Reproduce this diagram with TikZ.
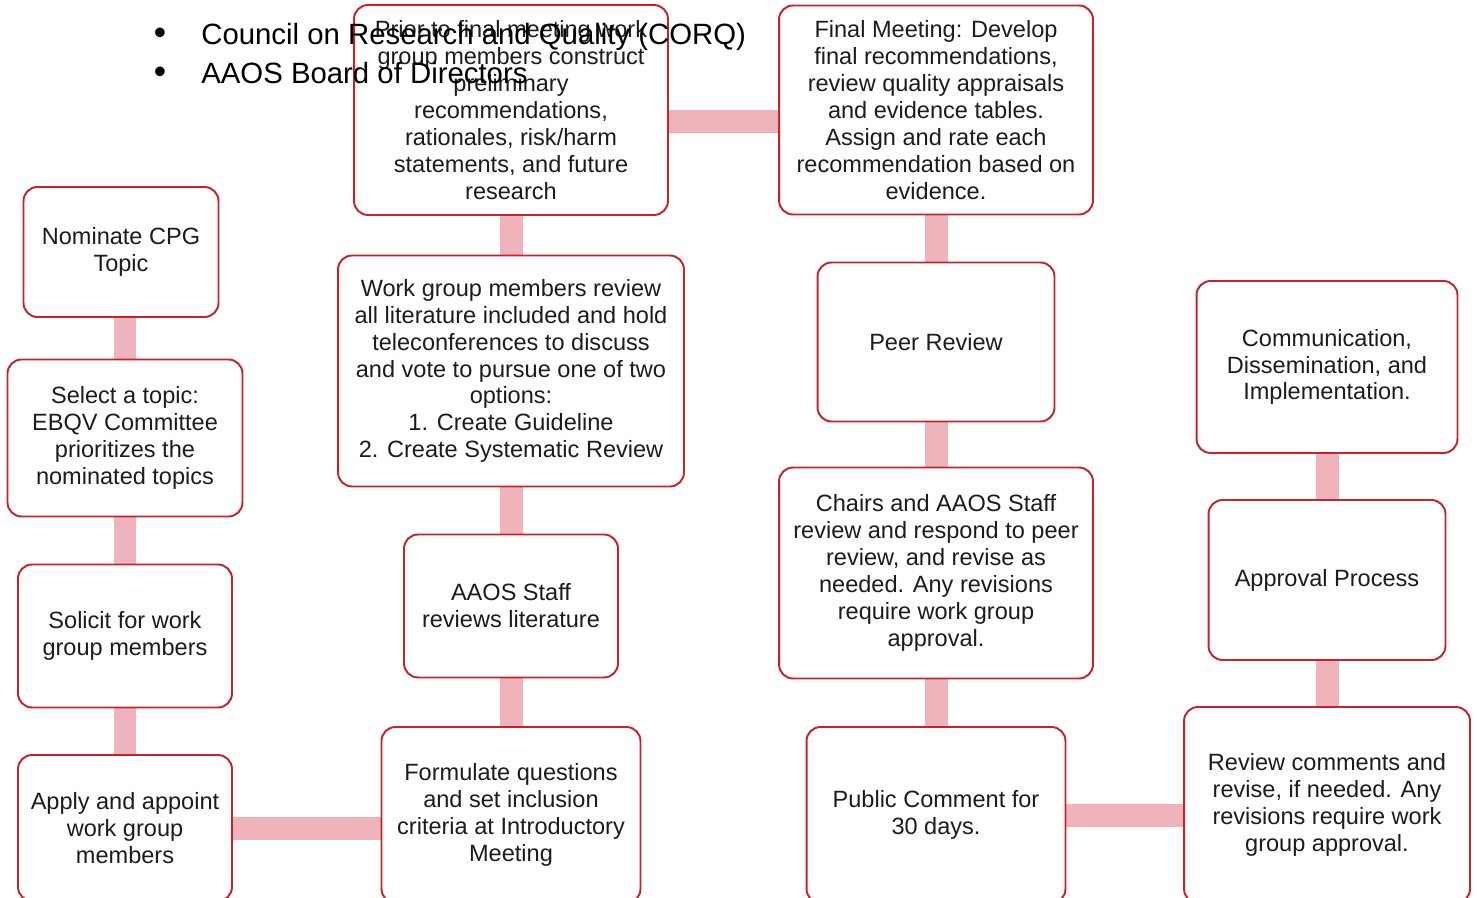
\documentclass[tikz,border=0pt]{standalone}
\usepackage{fontspec}
\setmainfont{Liberation Sans}
\usetikzlibrary{positioning,backgrounds}
\definecolor{boxred}{RGB}{198,34,46}
\definecolor{barpink}{RGB}{239,180,187}
\definecolor{inktext}{RGB}{28,28,28}

\begin{document}
\begin{tikzpicture}[
    x=0.02cm, y=-0.02cm,
    every node/.style={font=\fontsize{13.4}{15.3}\selectfont, text=inktext},
    stepbox/.style={rectangle, rounded corners=0.28cm, draw=boxred, line width=1.1pt, fill=white, align=center, inner sep=2pt},
    bar/.style={draw=barpink, line width=0.46cm},
    bullettext/.style={font=\fontsize{16.7}{20}\selectfont, text=black, anchor=base west, inner sep=0pt}
]
\useasboundingbox (0,0) rectangle (1477,898);
\clip (0,0) rectangle (1477,898);

% COLUMN 1
\node[stepbox, minimum width=3.9cm, minimum height=2.6cm] (nominate) at (121,252) {Nominate CPG\\Topic};
\node[stepbox, minimum width=4.7cm, minimum height=3.14cm] (select) at (125,438) {Select a topic:\\EBQV Committee\\prioritizes the\\nominated topics};
\node[stepbox, minimum width=4.28cm, minimum height=2.86cm] (solicit) at (125,636) {Solicit for work\\group members};
\node[stepbox, minimum width=4.28cm, minimum height=2.92cm] (apply) at (125,828) {Apply and appoint\\work group\\members};

% COLUMN 2
\node[stepbox, minimum width=6.28cm, minimum height=4.2cm] (prior) at (511,110) {Prior to final meeting work\\group members construct\\preliminary\\recommendations,\\rationales, risk/harm\\statements, and future\\research};
\node[stepbox, minimum width=6.92cm, minimum height=4.62cm] (review) at (511,371) {Work group members review\\all literature included and hold\\teleconferences to discuss\\and vote to pursue one of two\\options:\\1. Create Guideline\\2. Create Systematic Review};
\node[stepbox, minimum width=4.28cm, minimum height=2.86cm] (staff) at (511,606) {AAOS Staff\\reviews literature};
\node[stepbox, minimum width=5.18cm, minimum height=3.52cm] (formulate) at (511,815) {Formulate questions\\and set inclusion\\criteria at Introductory\\Meeting};

% COLUMN 3
\node[stepbox, minimum width=6.28cm, minimum height=4.18cm] (final) at (936,110) {Final Meeting: Develop\\final recommendations,\\review quality appraisals\\and evidence tables.\\Assign and rate each\\recommendation based on\\evidence.};
\node[stepbox, minimum width=4.74cm, minimum height=3.18cm] (peer) at (936,342) {Peer Review};
\node[stepbox, minimum width=6.28cm, minimum height=4.22cm] (chairs) at (936,573) {Chairs and AAOS Staff\\review and respond to peer\\review, and revise as\\needed. Any revisions\\require work group\\approval.};
\node[stepbox, minimum width=5.18cm, minimum height=3.52cm] (public) at (936,815) {Public Comment for\\30 days.};

% COLUMN 4
\node[stepbox, minimum width=5.22cm, minimum height=3.44cm] (comm) at (1327,367) {Communication,\\Dissemination, and\\Implementation.};
\node[stepbox, minimum width=4.74cm, minimum height=3.2cm] (approval) at (1327,580) {Approval Process};
\node[stepbox, minimum width=5.72cm, minimum height=3.92cm] (revcomments) at (1327,805) {Review comments and\\revise, if needed. Any\\revisions require work\\group approval.};

% BARS BEHIND THE BOXES
\begin{scope}[on background layer]
\draw[bar] (select) -- (select |- nominate.south);
\draw[bar] (select) -- (solicit);
\draw[bar] (solicit) -- (apply);
\draw[bar] (apply) -- (apply -| formulate);
\draw[bar] (formulate) -- (staff);
\draw[bar] (staff) -- (review);
\draw[bar] (review) -- (prior);
\draw[bar] ([yshift=-0.24cm]prior.center) -- ([yshift=-0.24cm]final.center);
\draw[bar] (final) -- (peer);
\draw[bar] (peer) -- (chairs);
\draw[bar] (chairs) -- (public);
\draw[bar] (public) -- (public -| revcomments);
\draw[bar] (revcomments) -- (approval);
\draw[bar] (approval) -- (comm);
\end{scope}

% BULLET LINES ON TOP
\node[bullettext, anchor=base, font=\fontsize{20}{20}\selectfont] (dotone) at (160,45) {\textbullet};
\node[bullettext] (corq) at (201,45) {Council on Research and Quality (CORQ)};
\node[bullettext, anchor=base, font=\fontsize{20}{20}\selectfont] (dottwo) at (160,84) {\textbullet};
\node[bullettext] (board) at (201,84) {AAOS Board of Directors};

\end{tikzpicture}
\end{document}
